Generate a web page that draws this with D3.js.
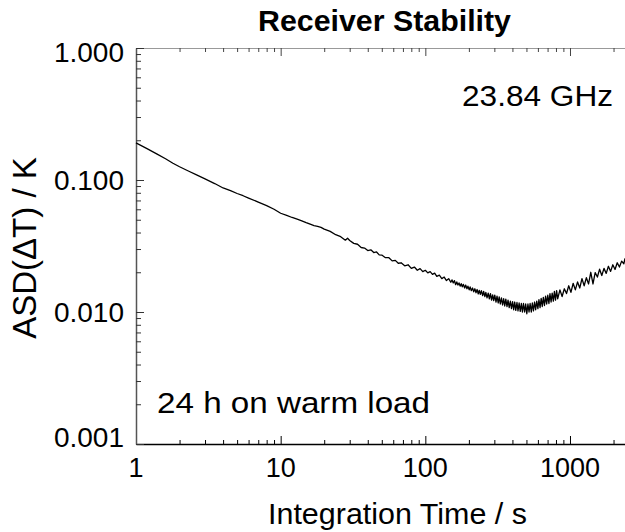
<!DOCTYPE html>
<meta charset="utf-8">
<head>
  <title>Receiver Stability</title>
  <script src="https://cdn.jsdelivr.net/npm/d3@7"></script>
  <style>
    body { margin: 0; background: #fff; }
    text { font-family: "Liberation Sans", Arial, sans-serif; fill: #000; }
    .title { font-weight: bold; font-size: 29px; }
    .ticklab { font-size: 27px; }
    .axlab { font-size: 29px; }
    .note { font-size: 29px; }
  </style>
</head>
<body>
<div id="chart"></div>
<script>
// integration time (s)
var tau = [1, 1.2, 1.4, 1.6, 1.8, 2, 2.3, 2.6, 3, 3.5, 4, 4.5, 5, 5.5, 6, 7, 8, 9,
  10, 11, 12, 13, 14, 15, 16, 17, 18, 19, 20, 22, 24, 26, 28, 29, 30, 32, 34, 36, 38,
  40, 42, 44, 46, 48, 50, 53, 56, 59, 62, 65, 68, 72, 76, 80, 84, 88, 92, 96,
  100, 104, 108, 112, 116, 120, 125, 130, 135, 140, 145,
  150, 153, 156, 159, 162, 165, 168, 171, 174, 177, 180, 183, 187, 190, 194, 197,
  201, 204, 208, 212, 216, 220, 224, 228, 232, 236, 240, 244, 249, 253, 258, 262,
  267, 272, 277, 282, 287, 292, 297, 302, 308, 313, 319, 324, 330, 336, 342, 348,
  354, 360, 367, 373, 380, 387, 394, 401, 408, 415, 422, 430, 437, 445, 453, 461,
  469, 477, 486, 494, 503, 512, 521, 530, 540, 549, 559, 569, 579, 589, 600, 610,
  621, 632, 643, 654, 666, 678, 690, 702, 715, 727, 740, 753, 767, 780, 794, 808,
  822, 852, 882, 914, 946, 980, 1015, 1051,
  1089, 1128, 1168, 1210, 1253, 1298, 1344, 1392, 1442, 1493, 1547, 1602, 1659, 1718,
  1780, 1843, 1909, 1977, 2048, 2121, 2197, 2275, 2356, 2400];
// Allan standard deviation (K)
var asd = [0.191, 0.172, 0.157, 0.145, 0.134, 0.126, 0.117, 0.110, 0.102, 0.094, 0.087,
  0.083, 0.079, 0.076, 0.073, 0.068, 0.064, 0.060,
  0.056, 0.054, 0.052, 0.0505, 0.049, 0.0475, 0.0463, 0.0452, 0.0446, 0.0438, 0.0425,
  0.0408, 0.0385, 0.0372, 0.0350, 0.0362, 0.0348, 0.0331, 0.0326, 0.0308, 0.0305,
  0.0292, 0.0296, 0.0282, 0.0285, 0.0271, 0.0270, 0.0258, 0.0258, 0.0244, 0.0246,
  0.0234, 0.0236, 0.0224, 0.0228, 0.0214, 0.0219, 0.0207, 0.0213, 0.0202,
  0.0207, 0.0198, 0.0202, 0.0193, 0.0197, 0.0186, 0.0190, 0.0179, 0.0184, 0.0173, 0.0179,
  0.0168, 0.0175, 0.0166, 0.0173, 0.0161, 0.0169, 0.0160, 0.0166, 0.0157, 0.0164,
  0.0155, 0.0162, 0.0152, 0.0160, 0.0150, 0.0157,
  0.0147, 0.0155, 0.0145, 0.0152, 0.0142, 0.0150, 0.0140, 0.0148, 0.0137, 0.0146,
  0.0136, 0.0145, 0.0133, 0.0143, 0.0131, 0.0141,
  0.0128, 0.0139, 0.0126, 0.0138, 0.0123, 0.0135, 0.0122, 0.0134, 0.0119, 0.0132,
  0.0117, 0.0130, 0.0115, 0.0128, 0.0113, 0.0126,
  0.0111, 0.0125, 0.0110, 0.0123, 0.0108, 0.0121, 0.0106, 0.0120, 0.0104, 0.0119,
  0.0103, 0.0118, 0.0102, 0.0117, 0.0101, 0.0116,
  0.0100, 0.0116, 0.0100, 0.0115, 0.0097, 0.0115, 0.0100, 0.0116, 0.0100, 0.0117,
  0.0102, 0.0119, 0.0104, 0.0121, 0.0106, 0.0124,
  0.0108, 0.0127, 0.0110, 0.0129, 0.0112, 0.0132, 0.0115, 0.0134, 0.0116, 0.0138,
  0.0119, 0.0139, 0.0121, 0.0143, 0.0123, 0.0145,
  0.0126, 0.0147, 0.0131, 0.0150, 0.0138, 0.0158, 0.0141, 0.0165,
  0.0147, 0.0169, 0.0152, 0.0179, 0.0158, 0.0182, 0.0163, 0.0200, 0.0163, 0.0199,
  0.0184, 0.0211, 0.0189, 0.0214,
  0.0196, 0.0222, 0.0203, 0.0228, 0.0210, 0.0236, 0.0219, 0.0243, 0.0232, 0.0255];

var xLabels = [1, 10, 100, 1000];
var yLabels = [0.001, 0.01, 0.1, 1];

var width = 625, height = 532;
var m = {l: 136, r: 625, t: 48, b: 444};

var svg = d3.select("#chart").append("svg")
    .attr("width", width)
    .attr("height", height);

var x = d3.scaleLog().domain([1, 2400]).range([m.l, m.r]);
var y = d3.scaleLog().domain([0.001, 1]).range([m.b, m.t]);

function isMajor(v) {
  var l = Math.log10(v);
  return Math.abs(l - Math.round(l)) < 1e-9;
}

// top axis
var gt = svg.append("g")
    .attr("transform", "translate(0," + m.t + ")")
    .call(d3.axisTop(x).tickValues(x.ticks()).tickSizeOuter(0).tickFormat(""));
gt.select(".domain").attr("stroke", "#999");
gt.selectAll(".tick line").attr("stroke", "#444").attr("y2", function (d) { return isMajor(d) ? 8 : 4; });

// bottom axis
var gx = svg.append("g")
    .attr("transform", "translate(0," + m.b + ")")
    .call(d3.axisBottom(x).tickValues(x.ticks()).tickSizeOuter(0).tickFormat(""));
gx.select(".domain").attr("stroke", "#000").attr("stroke-width", 1.5);
gx.selectAll(".tick line").attr("y2", function (d) { return isMajor(d) ? -8 : -4; });

// left axis
var gy = svg.append("g")
    .attr("transform", "translate(" + m.l + ",0)")
    .call(d3.axisLeft(y).tickValues(y.ticks()).tickSizeOuter(0).tickFormat(""));
gy.select(".domain").attr("stroke", "#555").attr("stroke-width", 1.5);
gy.selectAll(".tick line").attr("stroke", "#333").attr("x2", function (d) { return isMajor(d) ? 8 : 5; });

// tick labels
svg.selectAll(".xlab").data(xLabels).enter().append("text")
    .attr("class", "ticklab")
    .attr("x", function (d) { return x(d); })
    .attr("y", m.b + 33)
    .attr("text-anchor", "middle")
    .text(function (d) { return d; });

svg.selectAll(".ylab").data(yLabels).enter().append("text")
    .attr("class", "ticklab")
    .style("font-size", "28px")
    .attr("x", m.l - 12)
    .attr("y", function (d) { return y(d) + (d === 0.001 ? -7 : d === 1 ? 4 : 0); })
    .attr("dy", "0.36em")
    .attr("text-anchor", "end")
    .text(function (d) { return d.toFixed(3); });

// curve
var line = d3.line()
    .x(function (d, i) { return x(tau[i]); })
    .y(function (d) { return y(d); });

svg.append("path")
    .datum(asd)
    .attr("fill", "none")
    .attr("stroke", "#000")
    .attr("stroke-width", 1.3)
    .attr("stroke-linejoin", "round")
    .attr("d", line);

// titles
svg.append("text").attr("class", "title")
    .attr("x", 258).attr("y", 31)
    .attr("textLength", 253).attr("lengthAdjust", "spacingAndGlyphs")
    .text("Receiver Stability");

svg.append("text").attr("class", "axlab")
    .attr("x", 268).attr("y", 524)
    .attr("textLength", 259).attr("lengthAdjust", "spacingAndGlyphs")
    .text("Integration Time / s");

svg.append("text").attr("class", "axlab")
    .attr("transform", "translate(36,248) rotate(-90)")
    .attr("text-anchor", "middle")
    .style("font-size", "33px")
    .text("ASD(\u0394T) / K");

svg.append("text").attr("class", "note")
    .attr("x", 462).attr("y", 106)
    .attr("textLength", 151).attr("lengthAdjust", "spacingAndGlyphs")
    .text("23.84 GHz");

svg.append("text").attr("class", "note")
    .attr("x", 157).attr("y", 413)
    .attr("textLength", 273).attr("lengthAdjust", "spacingAndGlyphs")
    .text("24 h on warm load");
</script>
</body>
</html>
